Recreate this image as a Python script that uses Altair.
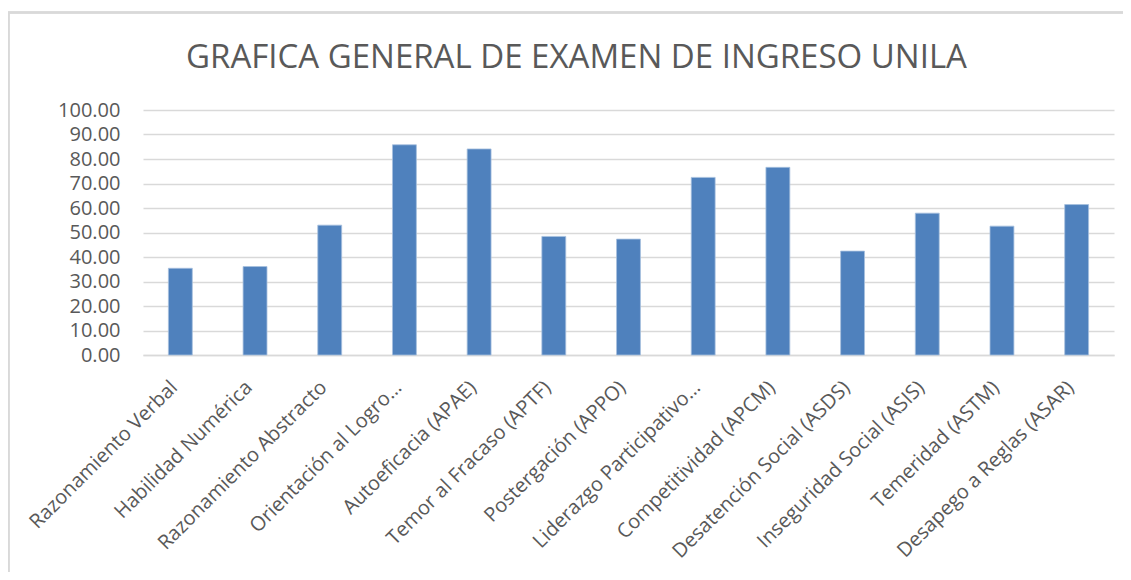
import altair as alt
import pandas as pd

categorias = [
    "Razonamiento Verbal",
    "Habilidad Numérica",
    "Razonamiento Abstracto",
    "Orientación al Logro…",
    "Autoeficacia (APAE)",
    "Temor al Fracaso (APTF)",
    "Postergación (APPO)",
    "Liderazgo Participativo…",
    "Competitividad (APCM)",
    "Desatención Social (ASDS)",
    "Inseguridad Social (ASIS)",
    "Temeridad (ASTM)",
    "Desapego a Reglas (ASAR)",
]
valores = [35.4, 36.1, 53.0, 85.8, 84.1, 48.4, 47.3, 72.5, 76.6, 42.4, 57.9, 52.6, 61.4]
ticks_y = [0, 10, 20, 30, 40, 50, 60, 70, 80, 90, 100]

df = pd.DataFrame({"categoria": categorias, "valor": valores})

FONT = "Open Sans"
GRAY = "#595959"

bars = alt.Chart(df).mark_bar(color="#4f81bd", stroke="#a7c0de", strokeWidth=0.8).encode(
    x=alt.X(
        "categoria:N",
        sort=categorias,
        title=None,
        scale=alt.Scale(paddingInner=0.68, paddingOuter=0.34),
        axis=alt.Axis(
            labelAngle=-45,
            labelAlign="right",
            labelBaseline="middle",
            labelFontSize=20,
            labelFont=FONT,
            labelColor=GRAY,
            labelPadding=29,
            labelOffset=-6,
            labelLimit=400,
            ticks=False,
            domainColor="#d9d9d9",
            domainWidth=1.5,
            grid=False,
        ),
    ),
    y=alt.Y(
        "valor:Q",
        title=None,
        scale=alt.Scale(domain=[0, 100], nice=False),
        axis=alt.Axis(
            values=ticks_y,
            format=".2f",
            labelFontSize=20,
            labelFont=FONT,
            labelColor=GRAY,
            labelPadding=23,
            ticks=False,
            domain=False,
            gridColor="#d9d9d9",
            gridWidth=1.5,
        ),
    ),
)

border = alt.Chart(df).mark_rect(fill="transparent", stroke="#d9d9d9", strokeWidth=1.5).encode(
    x=alt.value(-134.5),
    x2=alt.value(1000),
    y=alt.value(-97.5),
    y2=alt.value(480),
)

chart = alt.layer(border, bars).properties(
    width=971,
    height=245,
    title=alt.TitleParams(
        "GRAFICA GENERAL DE EXAMEN DE INGRESO UNILA",
        fontSize=33,
        font=FONT,
        fontWeight="normal",
        color=GRAY,
        anchor="middle",
        baseline="alphabetic",
        dx=-52,
        offset=-89,
    ),
    autosize=alt.AutoSizeParams(type="none"),
    padding={"left": 135, "top": 102, "right": 9, "bottom": 217},
).configure_view(stroke=None)

chart.save("out.html", embed_options={"renderer": "svg", "actions": False})
